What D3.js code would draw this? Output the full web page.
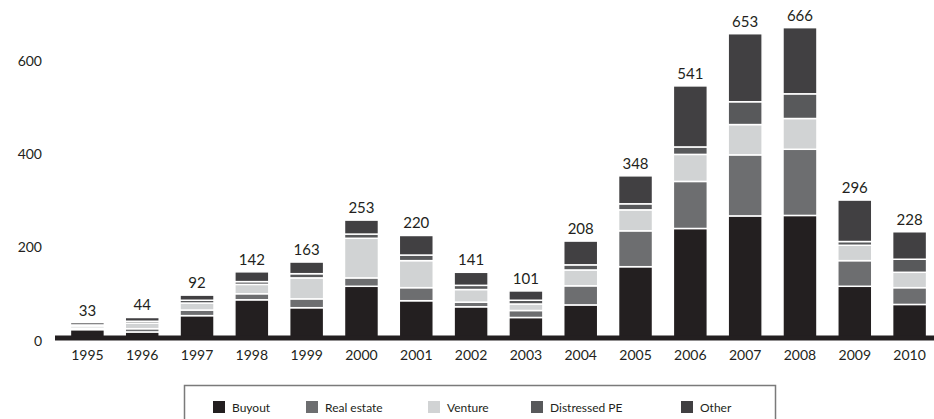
<!DOCTYPE html>
<html>
<head>
<meta charset="utf-8">
<script src="https://cdn.jsdelivr.net/npm/d3@7/dist/d3.min.js"></script>
<style>
  html, body { margin: 0; padding: 0; background: #fff; }
  svg { display: block; font-family: Lato, "Open Sans", sans-serif; font-weight: 400; }
</style>
</head>
<body>
<svg id="chart" width="934" height="419"></svg>
<script>
// Fund-raising by strategy, 1995–2010
const years = ["1995","1996","1997","1998","1999","2000","2001","2002","2003","2004","2005","2006","2007","2008","2009","2010"];
const buyout      = [18, 13, 48, 82, 65, 111, 80, 67, 44, 71, 153, 235, 262, 263, 111, 72];
const realEstate  = [ 3,  7, 12, 13, 19,  18, 28, 10, 15, 41,  77, 101, 131, 142,  55, 36];
const venture     = [ 5, 12, 15, 20, 45,  85, 58, 27, 14, 34,  45,  58,  65,  66,  33, 33];
const distressed  = [ 2,  4,  6,  6,  9,   9, 12,  9,  8, 11,  13,  16,  49,  53,   8, 28];
const other       = [ 5,  8, 11, 21, 25,  30, 42, 28, 20, 51,  60, 131, 146, 142,  89, 59];
const totals      = [33, 44, 92, 142, 163, 253, 220, 141, 101, 208, 348, 541, 653, 666, 296, 228];
const yTicks      = [0, 200, 400, 600];

const seriesNames  = ["Buyout", "Real estate", "Venture", "Distressed PE", "Other"];
const seriesColors = ["#231f20", "#6d6e70", "#d1d3d4", "#58595b", "#414042"];
const seriesKeys   = ["buyout", "realEstate", "venture", "distressed", "other"];

const rows = years.map((y, i) => ({
  year: y,
  buyout: buyout[i], realEstate: realEstate[i], venture: venture[i],
  distressed: distressed[i], other: other[i], total: totals[i]
}));

const svg = d3.select("#chart");

const x = d3.scaleBand()
  .domain(years)
  .range([60, 937])
  .paddingInner(0.38)
  .paddingOuter(0.19);

const y = d3.scaleLinear()
  .domain([0, 600])
  .range([338, 58.4]);

const color = d3.scaleOrdinal().domain(seriesKeys).range(seriesColors);

const stacked = d3.stack().keys(seriesKeys)(rows);

// stacked bars, white hairlines between segments
svg.append("g")
  .selectAll("g")
  .data(stacked)
  .join("g")
    .attr("fill", d => color(d.key))
  .selectAll("rect")
  .data(d => d)
  .join("rect")
    .attr("x", d => x(d.data.year))
    .attr("width", x.bandwidth())
    .attr("y", d => y(d[1]))
    .attr("height", d => y(d[0]) - y(d[1]))
    .attr("stroke", "#fff")
    .attr("stroke-width", 1.5);

// baseline
svg.append("line")
  .attr("x1", 55).attr("x2", 934)
  .attr("y1", y(0)).attr("y2", y(0))
  .attr("stroke", "#231f20")
  .attr("stroke-width", 5);

// total labels
svg.append("g")
  .selectAll("text")
  .data(rows)
  .join("text")
    .attr("x", d => x(d.year) + x.bandwidth() / 2)
    .attr("y", d => y(d.total) - 7)
    .attr("text-anchor", "middle")
    .attr("font-size", 15)
    .attr("fill", "#231f20")
    .text(d => d.total);

// x axis labels
const xAxis = d3.axisBottom(x).tickSize(0).tickPadding(0);
const gx = svg.append("g")
  .attr("transform", `translate(0,${y(0)})`)
  .call(xAxis);
gx.select(".domain").remove();
gx.selectAll("text")
  .attr("dy", null)
  .attr("y", 22)
  .attr("font-size", 14)
  .attr("font-family", "Lato, 'Open Sans', sans-serif")
  .attr("fill", "#231f20");

// y axis labels
const yAxis = d3.axisLeft(y).tickValues(yTicks).tickSize(0).tickPadding(0);
const gy = svg.append("g")
  .attr("transform", "translate(42,0)")
  .call(yAxis);
gy.select(".domain").remove();
gy.selectAll("text")
  .attr("dy", null)
  .attr("y", 7)
  .attr("font-size", 14)
  .attr("font-family", "Lato, 'Open Sans', sans-serif")
  .attr("fill", "#231f20");

// legend
const legend = svg.append("g");
legend.append("rect")
  .attr("x", 184.5).attr("y", 385.5)
  .attr("width", 591).attr("height", 40)
  .attr("fill", "none")
  .attr("stroke", "#7a7a7a")
  .attr("stroke-width", 1.5);

const legendX = [213, 306, 428, 531, 681];
const items = legend.selectAll("g.item")
  .data(seriesNames)
  .join("g")
    .attr("class", "item")
    .attr("transform", (d, i) => `translate(${legendX[i]},401)`);
items.append("rect")
  .attr("width", 12).attr("height", 12)
  .attr("fill", (d, i) => seriesColors[i]);
items.append("text")
  .attr("x", 19)
  .attr("y", 10.5)
  .attr("font-size", 12)
  .attr("fill", "#231f20")
  .text(d => d);
</script>
</body>
</html>
